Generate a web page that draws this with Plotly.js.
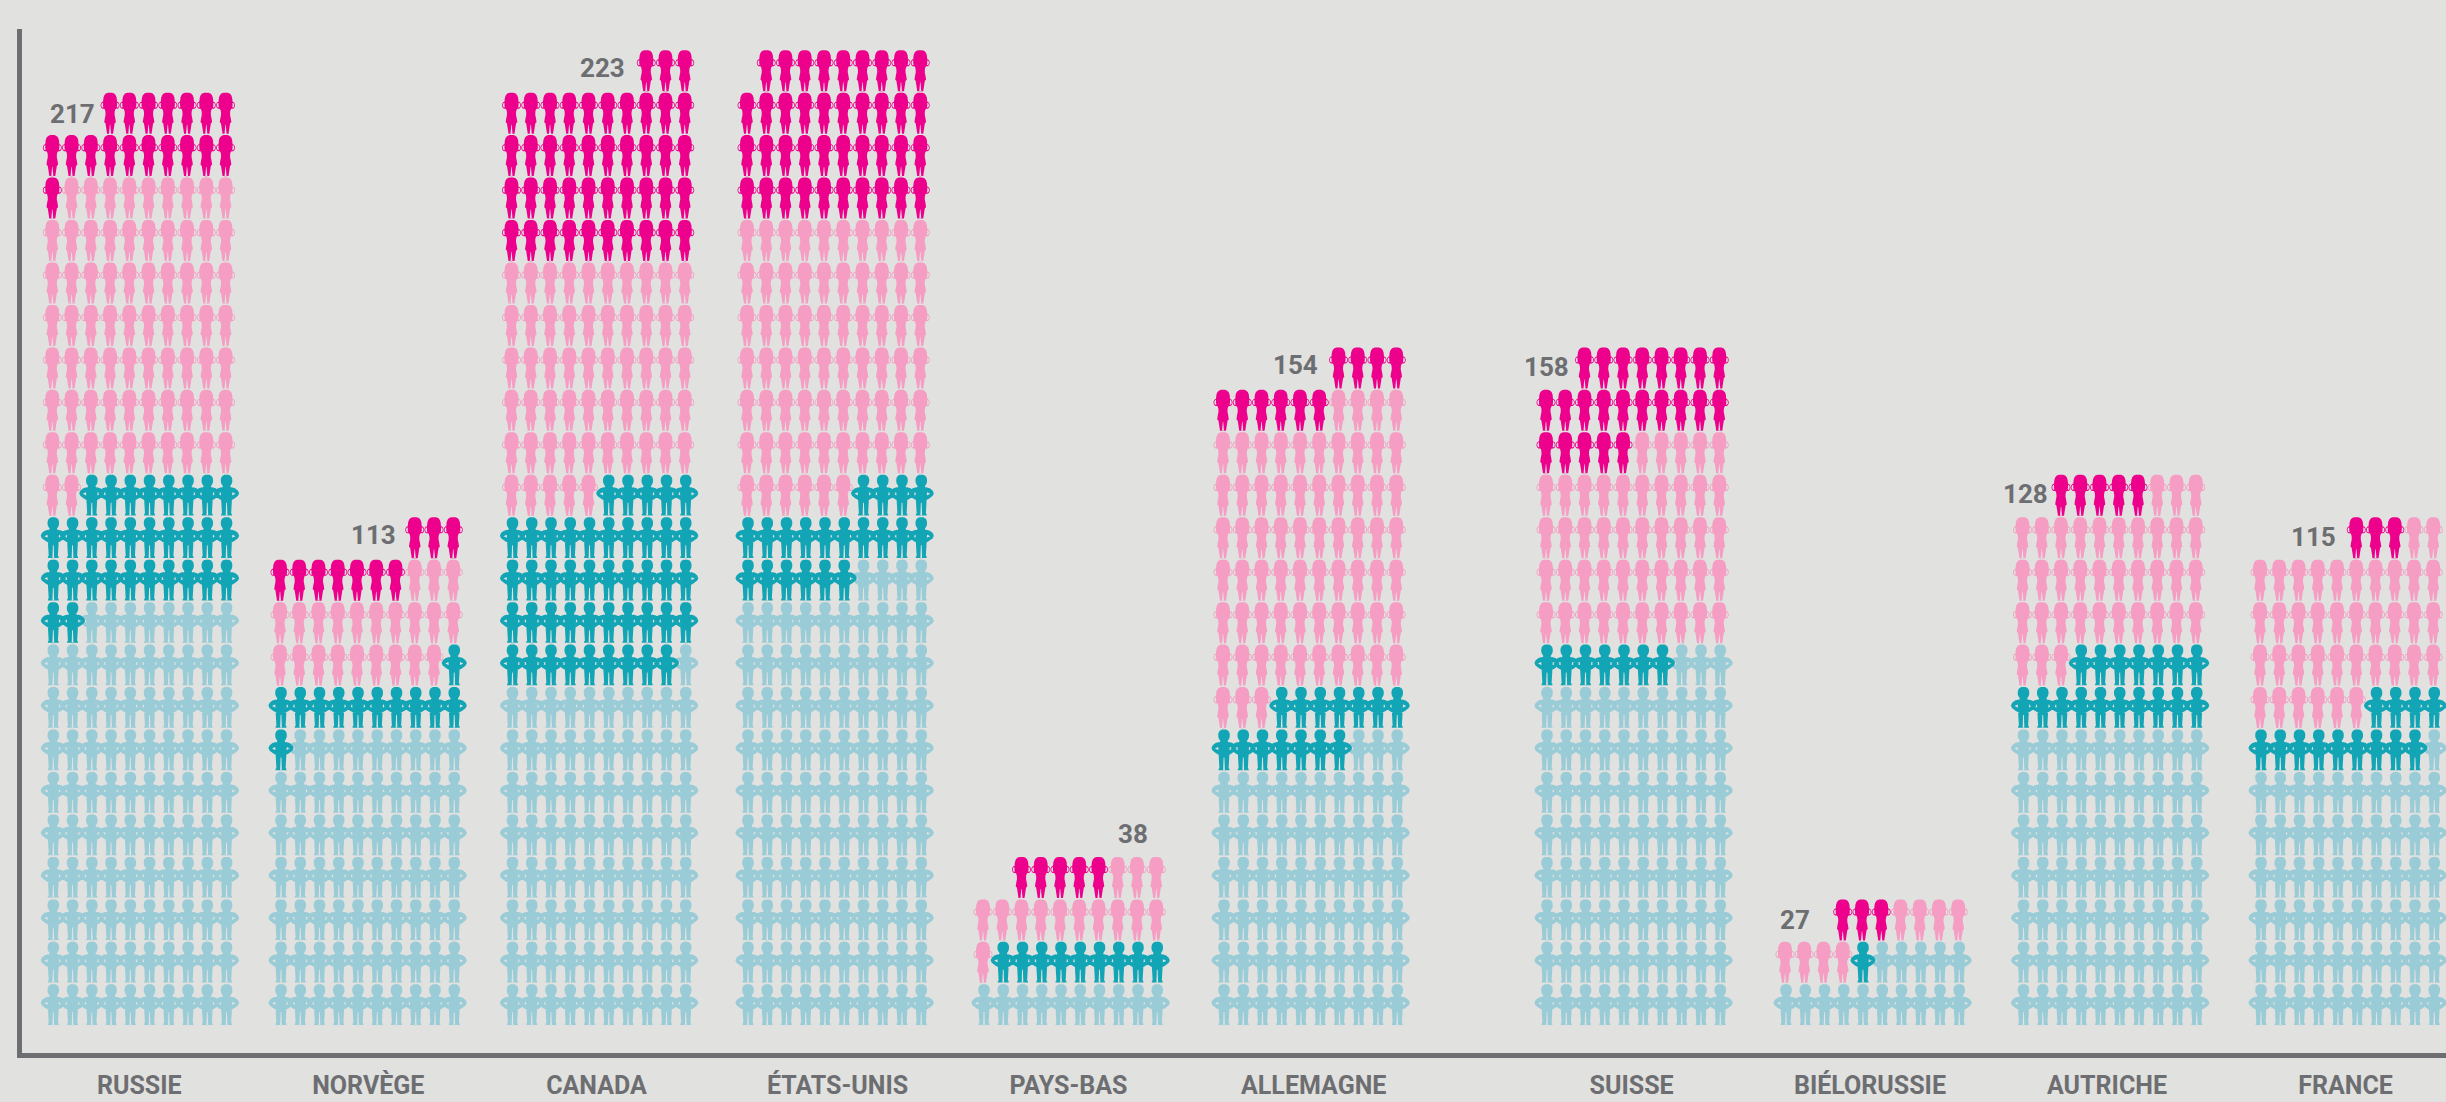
<!DOCTYPE html>
<html>
<head>
<meta charset="utf-8">
<script src="https://cdn.plot.ly/plotly-3.0.1.min.js"></script>
<style>html,body{margin:0;padding:0;background:#e1e1df;overflow:hidden}</style>
</head>
<body>
<div id="chart" style="width:2446px;height:1102px"></div>
<script>
const countries  = ["RUSSIE","NORVÈGE","CANADA","ÉTATS-UNIS","PAYS-BAS","ALLEMAGNE","SUISSE","BIÉLORUSSIE","AUTRICHE","FRANCE"];
const menLight   = [98, 69, 81, 104, 10, 63, 83, 15, 70, 61];
const menDark    = [30, 12, 44, 20,  9, 14,  7,  1, 17, 13];
const womenLight = [71, 22, 55, 66, 14, 67, 45,  8, 36, 38];
const womenDark  = [18, 10, 43, 39,  5, 10, 23,  3,  5,  3];
const totals     = [217, 113, 223, 229, 38, 154, 158, 27, 128, 115];

const W = 2446, H = 1102;
const M = {l:22, r:0, t:29, b:49};
const COL = 19.25, ROW = 42.46, BASE = 28;
const PLOT_W = W - M.l - M.r, PLOT_H = H - M.t - M.b;
const groupLeft = [53.3, 281, 512.5, 748, 984, 1224, 1547, 1786, 2023.5, 2261];
const labelCx   = [139.3, 368.3, 596.5, 837.6, 1068.5, 1313.7, 1631.6, 1870, 2107, 2345.5];
const valuePx   = [[72,114],[373,535],[602,68],[906,28],[1133,834],[1295,365],[1546,367],[1795,920],[2025,494],[2313,537]];
const toX = px => (px - M.l) / COL;
const toY = py => (H - M.b - py) / ROW;

const GREY = "#6d6e71";
const COLORS = {menLight:"#99ccd6", menDark:"#12a5b5", womenLight:"#f59dc3", womenDark:"#ec008c"};

function symmetric(profile){
  const right = profile.map(p => [p[1], p[0]]);
  const left  = profile.slice().reverse().map(p => [-p[1], p[0]]);
  return right.concat(left);
}
function area(poly){
  let a = 0;
  for (let i = 0; i < poly.length; i++){
    const [x1,y1] = poly[i], [x2,y2] = poly[(i+1)%poly.length];
    a += x1*y2 - x2*y1;
  }
  return a;
}
const wind = (poly, sign) => (area(poly)*sign >= 0 ? poly : poly.slice().reverse());
const mirror = poly => poly.map(p => [-p[0], p[1]]);
function ellipse(cx, cy, rx, ry){
  const out = [];
  for (let i = 0; i < 14; i++){
    const t = i / 14 * 2 * Math.PI;
    out.push([cx + rx*Math.cos(t), cy + ry*Math.sin(t)]);
  }
  return out;
}

const womanBody = symmetric([[0,2],[0.8,4.2],[2.5,5.7],[5,6.6],[9,7],[13,7],[15.6,6.5],[16.8,5.2],[19,4.6],[22,4.5],[26,5.3],[29.6,5.8],[30.6,4.6],[35,3.9],[41,3]]);
const womanGap  = [[-0.2,32],[0.2,32],[1,41.2],[-1,41.2]];
const womanGlyph = [wind(womanBody,1)];
[-1,1].forEach(s => {
  womanGlyph.push(wind(ellipse(s*6.9,12.6,2.6,3.6),1));
  womanGlyph.push(wind(ellipse(s*7.3,12.6,1.4,2.4),-1));
});
womanGlyph.push(wind(womanGap,-1));

const manBody = symmetric([[0,2],[0.9,3.9],[2.5,5.2],[5,5.8],[8,5.6],[10,4.6],[11.5,3.6],[12.5,4.2],[13.5,6],[16,5.9],[20,5.6],[28,5.2],[38.7,4.6],[39.2,5.4],[40.7,5.4]]);
const manGap  = [[-0.4,28],[0.4,28],[0.8,38.8],[0.8,41],[-0.8,41],[-0.8,38.8]];
const manArm  = [[-5,12.4],[-8.5,13.4],[-11.3,15.6],[-12.6,18.5],[-11.5,20.9],[-8,23.6],[-4,26],[-5.4,20.6],[-9,18.9],[-5.4,17.2]];
const manGlyph = [wind(manBody,1), wind(manArm,1), wind(mirror(manArm),1), wind(manGap,-1)];

function placeGlyph(glyph, cxPx, topRow, xs, ys, shift){
  glyph.forEach(poly => {
    poly.concat([poly[0]]).forEach(p => {
      xs.push((cxPx + shift + p[0] - M.l) / COL);
      ys.push(topRow - p[1] / ROW);
    });
    xs.push(null); ys.push(null);
  });
}

const layers = [
  {name:"Hommes",        key:"menLight",   counts:menLight,   glyph:manGlyph,   shift:0},
  {name:"Hommes (part)", key:"menDark",    counts:menDark,    glyph:manGlyph,   shift:0},
  {name:"Femmes",        key:"womenLight", counts:womenLight, glyph:womanGlyph, shift:-1},
  {name:"Femmes (part)", key:"womenDark",  counts:womenDark,  glyph:womanGlyph, shift:-1}
];
const store = layers.map(() => ({x:[], y:[]}));
countries.forEach((c, ci) => {
  let idx = 0;
  layers.forEach((lay, li) => {
    for (let n = 0; n < lay.counts[ci]; n++, idx++){
      const row = Math.floor(idx / 10);
      const col = 9 - (idx % 10);
      const cx = groupLeft[ci] + col * COL;
      const top = (BASE + 40.7) / ROW + row;
      placeGlyph(lay.glyph, cx, top, store[li].x, store[li].y, lay.shift);
    }
  });
});
const traces = layers.map((lay, li) => ({
  type:"scatter", mode:"lines", name:lay.name,
  x:store[li].x, y:store[li].y,
  fill:"toself", fillcolor:COLORS[lay.key],
  line:{width:0, color:COLORS[lay.key], simplify:false},
  connectgaps:false, hoverinfo:"skip", showlegend:false
}));

const annotations = totals.map((t, i) => ({
  x: toX(valuePx[i][0]), y: toY(valuePx[i][1]), xref:"x", yref:"y",
  text:String(t), showarrow:false, xanchor:"center", yanchor:"middle",
  font:{family:"Roboto, sans-serif", size:26, color:GREY, weight:700}
}));

const layout = {
  width:W, height:H,
  margin:{l:M.l, r:M.r, t:M.t, b:M.b, pad:0},
  paper_bgcolor:"#e1e1df", plot_bgcolor:"#e1e1df",
  showlegend:false,
  xaxis:{
    range:[0, PLOT_W/COL], fixedrange:true, showgrid:false, zeroline:false,
    showline:true, linecolor:GREY, linewidth:5,
    tickmode:"array", tickvals:labelCx.map(toX), ticktext:countries,
    ticks:"outside", ticklen:6, tickwidth:0, tickcolor:"rgba(0,0,0,0)",
    tickangle:0, automargin:false,
    tickfont:{family:"Roboto, sans-serif", size:25, color:GREY, weight:700}
  },
  yaxis:{
    range:[0, PLOT_H/ROW], fixedrange:true, showgrid:false, zeroline:false,
    showline:true, linecolor:GREY, linewidth:5,
    ticks:"", showticklabels:false, automargin:false
  },
  annotations:annotations
};
Plotly.newPlot("chart", traces, layout, {displayModeBar:false, staticPlot:true});
</script>
</body>
</html>
